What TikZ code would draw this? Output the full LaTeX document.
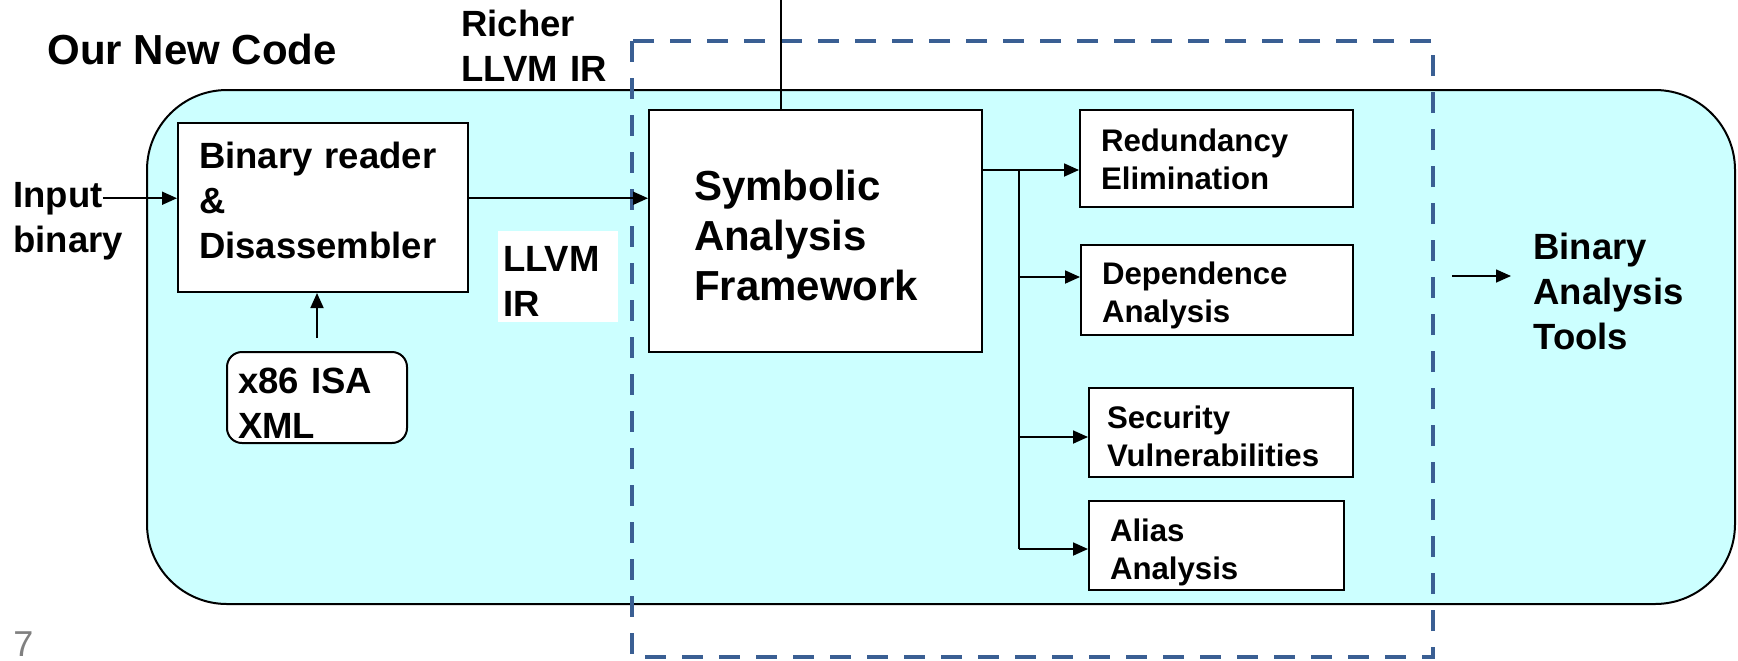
\documentclass[tikz,border=0pt]{standalone}
\usepackage{fontspec}
\setmainfont{Liberation Sans}
\usetikzlibrary{positioning,arrows.meta}
\definecolor{panelcyan}{HTML}{CCFFFF}
\definecolor{dashblue}{HTML}{3A5F93}
\definecolor{pagegrey}{HTML}{808080}

\begin{document}
\begin{tikzpicture}[x=0.5pt,y=-0.5pt,>={Triangle[length=7.5pt,width=6.5pt]},
  lbl/.style={font=\fontsize{18.25}{22.5}\selectfont\bfseries,align=left,inner sep=0pt,anchor=base west},
  blk/.style={draw,line width=1pt,fill=white,anchor=north west,inner ysep=0pt,align=left,
    font=\fontsize{18.25}{22.5}\selectfont\bfseries},
  tool/.style={blk,inner xsep=10.5pt,text height=20pt,text depth=24.5pt,
    font=\fontsize{15.6}{19}\selectfont\bfseries},
  link/.style={->,line width=0.9pt}]
\useasboundingbox (0,0) rectangle (1738,660);

\draw[fill=panelcyan,line width=1pt,rounded corners=40pt] (147,90) rectangle (1735,604);
\draw[dashblue,line width=2pt,dash pattern=on 10.5pt off 8pt] (632,41) rectangle (1433,657);

\node[lbl,font=\fontsize{21}{25}\selectfont\bfseries] (onc) at (47,64) {Our New Code};
\node[lbl,text width=75pt] (rich) at (461,36) {Richer\\LLVM IR};
\node[lbl] (inp) at (13,207) {Input};
\node[lbl] (inpb) at (13,252) {binary};

\node[blk,inner xsep=10.5pt,text width=124pt,text height=22.5pt,text depth=62pt] (rd) at (177,122)
  {Binary reader\\\&\\Disassembler};
\node[blk,rounded corners=7.5pt,inner xsep=5.5pt,text width=79pt,text height=20.5pt,text depth=25pt] (isa) at (226,351)
  {x86 ISA\\XML};
\node[blk,draw=none,inner xsep=2.5pt,text width=55pt,text height=20pt,text depth=25.5pt] (llvm) at (497,230)
  {LLVM\\IR};
\node[blk,inner xsep=22.5pt,text width=121.5pt,text height=45pt,text depth=76pt,
  font=\fontsize{21}{25}\selectfont\bfseries] (saf) at (648,109) {Symbolic\\Analysis\\Framework};

\node[tool,text width=115.5pt,text height=20.5pt,text depth=28pt] (red) at (1079,109) {Redundancy\\Elimination};
\node[tool,text width=115pt,text height=19.5pt,text depth=25.5pt] (dep) at (1080,244) {Dependence\\Analysis};
\node[tool,inner xsep=9pt,text width=114pt] (sec) at (1088,387) {Security\\Vulnerabilities};
\node[tool,text width=106.5pt] (ali) at (1088,500) {Alias\\Analysis};

\node[lbl,text width=80pt] (bat) at (1533,259) {Binary\\Analysis\\Tools};
\node[lbl,font=\fontsize{18}{22}\selectfont,text=pagegrey] (pg) at (13,656) {7};

\coordinate (feed) at (781,0);
\coordinate (fork) at (1019,170);
\coordinate (tin) at (1452,276);

\draw[line width=0.75pt] (feed) -- (feed |- saf.north);
\draw[link] (inp.east) -- (inp.east -| rd.west);
\draw[link] (inp.east -| rd.east) -- (inp.east -| saf.west);
\draw[link,shorten <=6.5pt] (isa.north) -- (isa.north |- rd.south);

\draw[link] (fork -| saf.east) -- (fork -| red.west);
\draw[line width=0.9pt] (fork) -- ([yshift=-1.75pt]ali.west -| fork);
\draw[link] ([yshift=6.5pt]dep.west -| fork) -- ([yshift=6.5pt]dep.west);
\draw[link] ([yshift=-2.25pt]sec.west -| fork) -- ([yshift=-2.25pt]sec.west);
\draw[link] ([yshift=-1.75pt]ali.west -| fork) -- ([yshift=-1.75pt]ali.west);

\draw[link,line width=0.75pt,shorten >=11pt] (tin) -- (tin -| bat.west);
\end{tikzpicture}
\end{document}
